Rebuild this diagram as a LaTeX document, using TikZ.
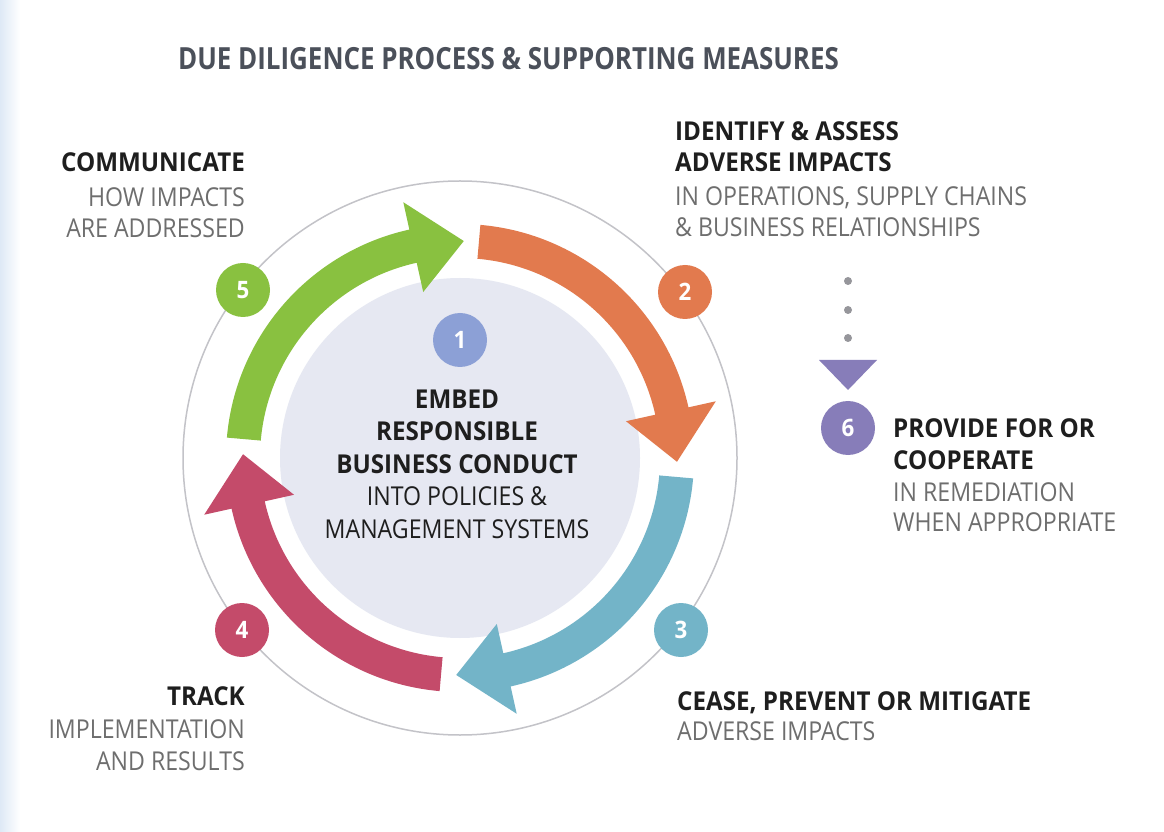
\documentclass[tikz,border=0pt]{standalone}
\usepackage{fontspec}
\setmainfont{Open Sans}
\newfontfamily\hfont{Open Sans}[FakeStretch=0.93]
\newfontfamily\sfont{Open Sans}[FakeStretch=0.89]
\newfontfamily\tfont{Open Sans}[FakeStretch=0.85]
\definecolor{cgreen}{RGB}{137,193,64}
\definecolor{corange}{RGB}{226,122,78}
\definecolor{cblue}{RGB}{115,180,200}
\definecolor{cred}{RGB}{196,75,106}
\definecolor{cone}{RGB}{140,160,214}
\definecolor{cpurple}{RGB}{135,125,185}
\definecolor{cdisk}{RGB}{230,232,242}
\definecolor{cring}{RGB}{195,195,200}
\definecolor{headc}{RGB}{30,30,30}
\definecolor{subc}{RGB}{110,110,110}
\definecolor{titlec}{RGB}{75,80,90}
\definecolor{dotc}{RGB}{150,150,155}
\definecolor{edgeblue}{RGB}{222,233,246}
\newcommand\ringarrow[2]{%
  \fill[#1] ([shift={(#2+85:234)}]C) arc[start angle=#2+85, end angle=#2+12.5, radius=234]
    -- ([shift={(#2+12.5:262)}]C) -- ([shift={(#2-1:217)}]C) -- ([shift={(#2+12.5:170)}]C)
    -- ([shift={(#2+12.5:200)}]C) arc[start angle=#2+12.5, end angle=#2+85, radius=200] -- cycle;}
\begin{document}
\begin{tikzpicture}[x=1pt,y=1pt,
  badge/.style={circle, minimum size=54, inner sep=0, text=white, font=\hfont\bfseries\fontsize{24}{24}\selectfont},
  head/.style={inner sep=0, text=headc, font=\hfont\bfseries\fontsize{26}{26}\selectfont},
  sub/.style={inner sep=0, text=subc, font=\sfont\fontsize{26}{26}\selectfont},
  ctr/.style={inner sep=0, text=headc, font=\sfont\fontsize{26}{26}\selectfont},
  dotn/.style={circle, fill=dotc, minimum size=8, inner sep=0}]
\useasboundingbox (0,0) rectangle (1164,831);
\fill[white] (0,0) rectangle (1164,831);
\shade[left color=edgeblue, right color=white] (0,0) rectangle (20,831);
\coordinate (C) at (460,373);
\fill[cdisk] (C) circle[radius=180];
\draw[cring, line width=1.5] (C) circle[radius=277];
\ringarrow{cgreen}{90}
\ringarrow{corange}{0}
\ringarrow{cblue}{270}
\ringarrow{cred}{180}
\node[badge, fill=cone] (b1) at (460,491) {1};
\node[badge, fill=corange] (b2) at (685,539) {2};
\node[badge, fill=cblue] (b3) at (681,201) {3};
\node[badge, fill=cred] (b4) at (242,201) {4};
\node[badge, fill=cgreen] (b5) at (243,541) {5};
\node[badge, fill=cpurple] (b6) at (848,403) {6};
\node[dotn] (d1) at (848,550) {};
\node[dotn] (d2) at (848,521) {};
\node[dotn] (d3) at (848,493) {};
\coordinate (trl) at (819,471);
\coordinate (trr) at (877,471);
\coordinate (trt) at (848,441);
\fill[cpurple] (trl) -- (trr) -- (trt) -- cycle;
% title
\node[inner sep=0, anchor=base west, text=titlec, font=\tfont\bfseries\fontsize{30.5}{30.5}\selectfont] (title) at (178,761) {DUE DILIGENCE PROCESS \& SUPPORTING MEASURES};
% communicate
\node[head, anchor=base east] (c1) at (245,659) {COMMUNICATE};
\node[sub, anchor=base east] (c2) at (245,624) {HOW IMPACTS};
\node[sub, anchor=base east] (c3) at (245,593) {ARE ADDRESSED};
% identify
\node[head, anchor=base west] (i1) at (675,690) {IDENTIFY \& ASSESS};
\node[head, anchor=base west] (i2) at (675,659) {ADVERSE IMPACTS};
\node[sub, anchor=base west] (i3) at (675,625) {IN OPERATIONS, SUPPLY CHAINS};
\node[sub, anchor=base west] (i4) at (675,594) {\& BUSINESS RELATIONSHIPS};
% provide
\node[head, anchor=base west] (p1) at (893,394) {PROVIDE FOR OR};
\node[head, anchor=base west] (p2) at (893,362) {COOPERATE};
\node[sub, anchor=base west] (p3) at (893,330) {IN REMEDIATION};
\node[sub, anchor=base west] (p4) at (893,300) {WHEN APPROPRIATE};
% cease
\node[head, anchor=base west] (s1) at (677,121) {CEASE, PREVENT OR MITIGATE};
\node[sub, anchor=base west] (s2) at (677,91) {ADVERSE IMPACTS};
% track
\node[head, anchor=base east] (k1) at (245,126) {TRACK};
\node[sub, anchor=base east] (k2) at (245,93) {IMPLEMENTATION};
\node[sub, anchor=base east] (k3) at (245,61) {AND RESULTS};
% center
\node[head, anchor=base] (e1) at (457,422) {EMBED};
\node[head, anchor=base] (e2) at (457,391) {RESPONSIBLE};
\node[head, anchor=base] (e3) at (457,358) {BUSINESS CONDUCT};
\node[ctr, anchor=base] (e4) at (457,326) {INTO POLICIES \&};
\node[ctr, anchor=base] (e5) at (457,293) {MANAGEMENT SYSTEMS};
\end{tikzpicture}
\end{document}
